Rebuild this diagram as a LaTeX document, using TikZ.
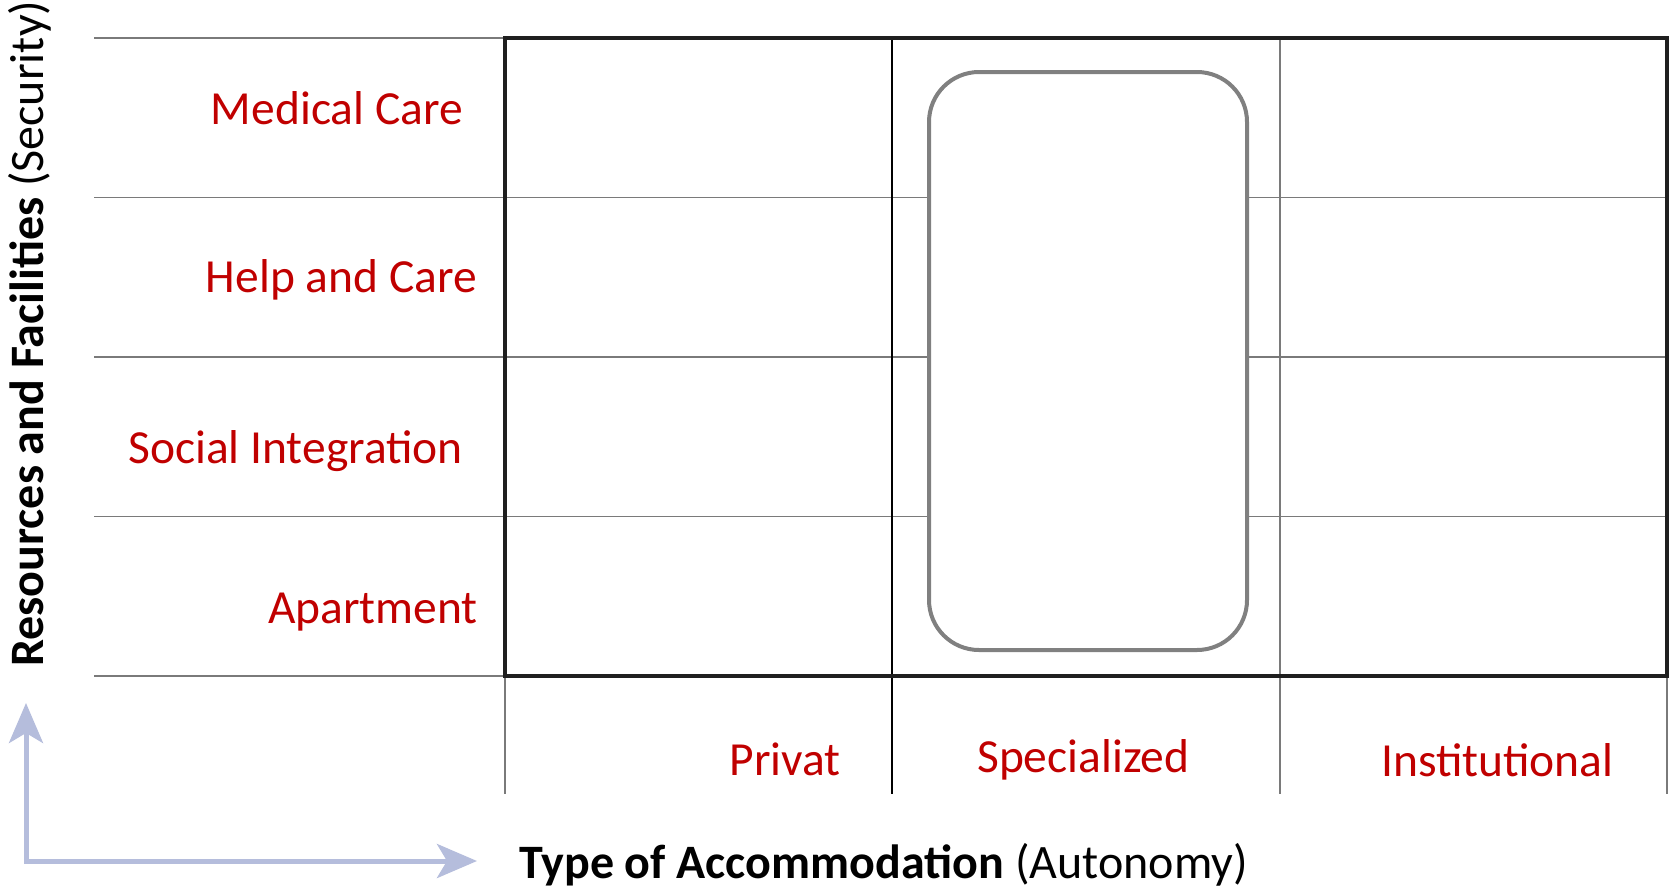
\documentclass[tikz,border=0pt]{standalone}
\usepackage{fontspec}
\setmainfont{Carlito}
\usetikzlibrary{arrows.meta}
\definecolor{lblred}{HTML}{C00000}
\definecolor{axblue}{RGB}{181,189,220}
\definecolor{gridgray}{HTML}{7A7A7A}
\definecolor{boxblack}{HTML}{1F1F1F}
\definecolor{roundgray}{HTML}{808080}
\tikzset{
  rowlbl/.style={text=lblred, inner sep=0pt, font=\fontsize{47.5}{56}\selectfont},
  title/.style={text=black, inner sep=0pt, font=\fontsize{48}{56}\selectfont},
  gridline/.style={draw=gridgray, line width=1.6pt},
  darkline/.style={draw=black, line width=1.2pt},
  mainbox/.style={draw=boxblack, line width=4pt},
  roundbox/.style={draw=roundgray, fill=white, line width=4pt, rounded corners=50pt},
  axisarrow/.style={draw=axblue, line width=5pt, {Stealth[length=40pt,width=34pt,inset=10pt]}-{Stealth[length=40pt,width=34pt,inset=10pt]}}
}
\begin{document}
\begin{tikzpicture}[x=1pt,y=-1pt]
\useasboundingbox (0,0) rectangle (1669,889);
% horizontal grid lines
\foreach \yy in {38,197.5,357,516.5,676}{
  \draw[gridline] (94,\yy) -- (1667,\yy);
}
% vertical lines
\draw[gridline] (505,676) -- (505,794);
\draw[darkline] (892,38) -- (892,794);
\draw[gridline] (1280,38) -- (1280,794);
\draw[gridline] (1667,676) -- (1667,794);
% rounded box
\draw[roundbox] (929,72) rectangle (1247,650);
% main box
\draw[mainbox] (505,38) rectangle (1667,676);
% row labels
\node[rowlbl, anchor=base east] (med) at (463,124) {Medical Care};
\node[rowlbl, anchor=base east] (help) at (477,292) {Help and Care};
\node[rowlbl, anchor=base east] (soc) at (463,463) {Social Integration};
\node[rowlbl, anchor=base east] (apt) at (478,623) {Apartment};
% column labels
\node[rowlbl, anchor=base east] (priv) at (841,775) {Privat};
\node[rowlbl, anchor=base west] (spec) at (977,772) {Specialized};
\node[rowlbl, anchor=base west] (inst) at (1381,776) {Institutional};
% axis titles
\node[title, anchor=base west] (xt) at (519,878) {\textbf{Type of Accommodation} (Autonomy)};
\node[title, anchor=base west, rotate=90] (yt) at (43,667) {\textbf{Resources and Facilities} (Security)};
% axis arrows
\coordinate (vt) at (26,703);
\coordinate (ht) at (477,861);
\draw[axisarrow] (vt) |- (ht);
\end{tikzpicture}
\end{document}
